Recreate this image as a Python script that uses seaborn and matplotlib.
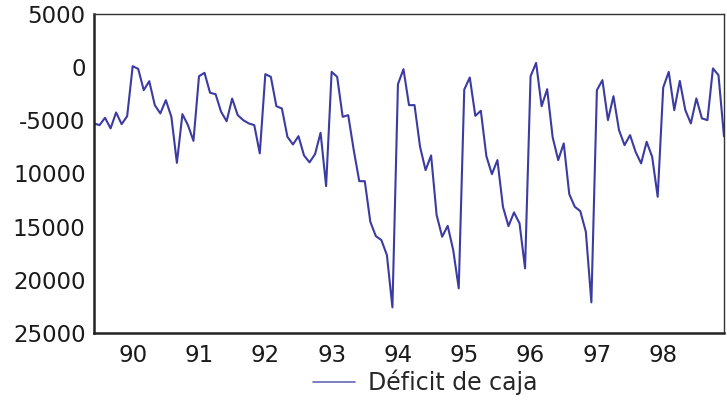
import numpy as np
import pandas as pd
import matplotlib
matplotlib.use("Agg")
import matplotlib.pyplot as plt
import seaborn as sns
from matplotlib.lines import Line2D

# Monthly series 1989M06 - 1998M12
start_year = 1989
start_month = 6
deficit = [
    # 1989 M06-M12
    -5290, -5450, -4760, -5760, -4260, -5360, -4610,
    # 1990
    90, -160, -2160, -1320, -3570, -4350, -3100, -4670, -9000, -4420, -5450, -6930,
    # 1991
    -850, -530, -2410, -2540, -4200, -5080, -2950, -4510, -4980, -5290, -5450, -8110,
    # 1992
    -660, -910, -3670, -3890, -6550, -7270, -6490, -8300, -8950, -8180, -6170, -11190,
    # 1993
    -440, -910, -4670, -4510, -7800, -10720, -10720, -14540, -15890, -16260, -17670, -22590,
    # 1994
    -1600, -190, -3570, -3570, -7490, -9680, -8300, -13910, -15950, -14920, -17200, -20800,
    # 1995
    -2100, -970, -4580, -4100, -8370, -10060, -8740, -13130, -14950, -13660, -14690, -18920,
    # 1996
    -850, 400, -3670, -2070, -6610, -8740, -7170, -11940, -13130, -13540, -15480, -22120,
    # 1997
    -2160, -1220, -4980, -2730, -5920, -7330, -6390, -7960, -9050, -7020, -8430, -12190,
    # 1998
    -1910, -440, -4040, -1290, -4040, -5290, -2940, -4820, -4980, -120, -750, -6520,
]
series_name = "Déficit de caja"
year_ticks = [1990, 1991, 1992, 1993, 1994, 1995, 1996, 1997, 1998]
year_labels = ["90", "91", "92", "93", "94", "95", "96", "97", "98"]
y_ticks = [5000, 0, -5000, -10000, -15000, -20000, -25000]
y_labels = ["5000", "0", "-5000", "10000", "15000", "20000", "25000"]

t = [start_year + (start_month - 1 + i) / 12 for i in range(len(deficit))]
df = pd.DataFrame({"t": t, "v": deficit, "serie": series_name})

sns.set_style("white")
plt.rcParams["font.family"] = ["DejaVu Sans"]

fig = plt.figure(figsize=(7.27, 4.08), dpi=100)
ax = fig.add_axes([94 / 727, 75 / 408, 630 / 727, 319 / 408])

sns.lineplot(data=df, x="t", y="v", hue="serie", palette=["#3b3ba3"],
             linewidth=1.5, ax=ax, legend=False)

ax.set_xlim(t[0], t[-1])
ax.set_ylim(-25000, 5000)
ax.set_xticks(year_ticks)
ax.set_xticklabels(year_labels)
ax.set_yticks(y_ticks)
ax.set_yticklabels(y_labels)
ax.set_xlabel("")
ax.set_ylabel("")

for side in ["left", "bottom"]:
    ax.spines[side].set_linewidth(1.8)
    ax.spines[side].set_color("#222222")
for side in ["top", "right"]:
    ax.spines[side].set_linewidth(1.0)
    ax.spines[side].set_color("#333333")
    ax.spines[side].set_visible(True)

ax.tick_params(axis="both", direction="out", length=5, width=1.2,
               colors="#222222", labelsize=16.5)
ax.tick_params(axis="y", pad=1)
ax.tick_params(axis="x", pad=3)
for lab in ax.get_xticklabels() + ax.get_yticklabels():
    lab.set_color("#1a1a1a")

handle = Line2D([0], [0], color="#6666bb", linewidth=1.2)
fig.legend([handle], [series_name], loc="center", bbox_to_anchor=(0.585, 0.062),
           frameon=False, fontsize=17, handlelength=1.8, handletextpad=0.55,
           borderpad=0.1)

fig.savefig("out.png", dpi=100, facecolor="white")
